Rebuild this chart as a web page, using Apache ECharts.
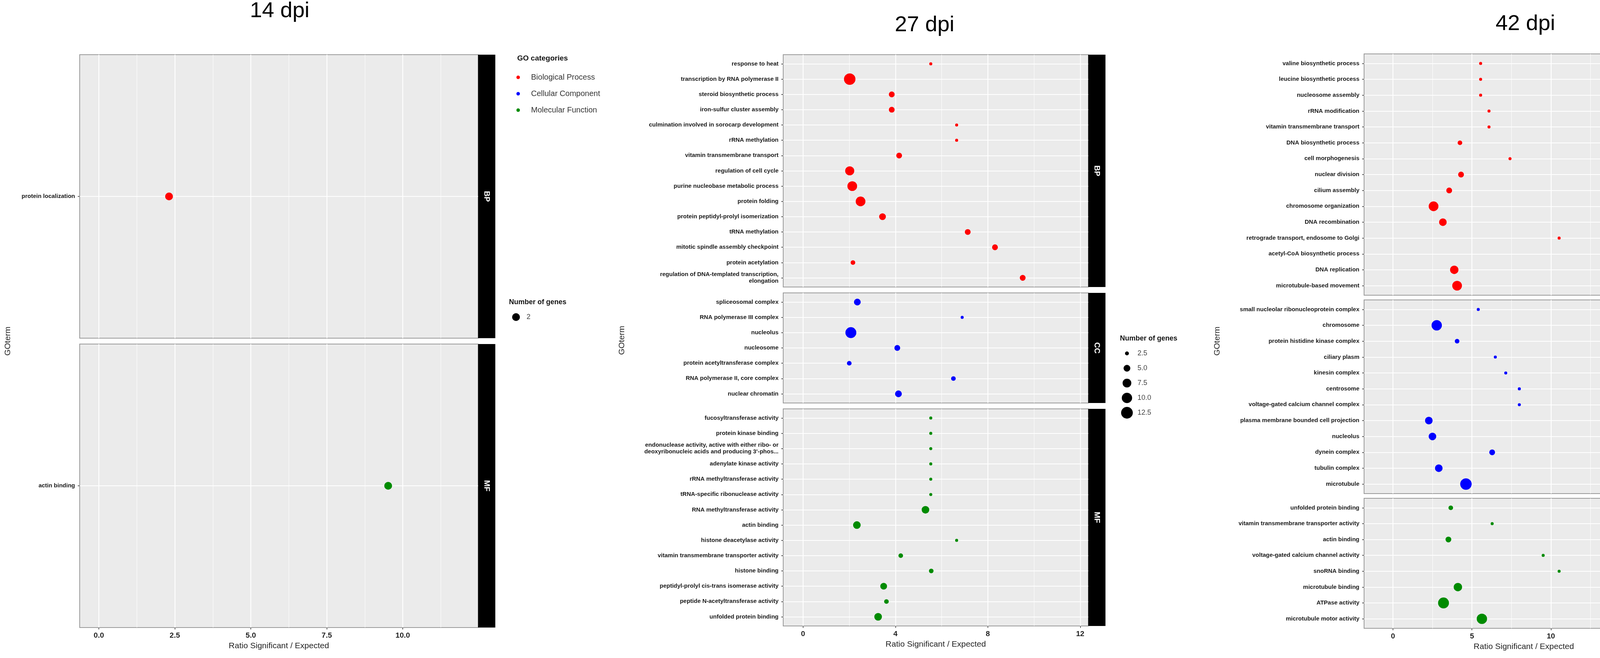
<!DOCTYPE html>
<html>
<head>
<meta charset="utf-8">
<title>GO enrichment dot plots</title>
<style>
  html, body { margin: 0; padding: 0; background: #fff; }
  #chart { width: 4561px; height: 1685px; }
</style>
<script src="https://cdn.jsdelivr.net/npm/echarts@6.0.0/dist/echarts.min.js"></script>
</head>
<body>
<div id="chart"></div>
<script>
const FONT = '"Liberation Sans", Arial, Helvetica, sans-serif';

// ---------- 14 dpi ----------
const d14BpTerms = ['protein localization'];
const d14BpRatio = [2.31];
const d14BpGenes = [2];
const d14MfTerms = ['actin binding'];
const d14MfRatio = [9.52];
const d14MfGenes = [2];
const d14Ticks = [0, 2.5, 5, 7.5, 10];
const d14Minor = [1.25, 3.75, 6.25, 8.75, 11.25];
const d14SizeBreaks = [2];

// ---------- 27 dpi ----------
const d27BpTerms = [
  'response to heat', 'transcription by RNA polymerase II', 'steroid biosynthetic process',
  'iron-sulfur cluster assembly', 'culmination involved in sorocarp development', 'rRNA methylation',
  'vitamin transmembrane transport', 'regulation of cell cycle', 'purine nucleobase metabolic process',
  'protein folding', 'protein peptidyl-prolyl isomerization', 'tRNA methylation',
  'mitotic spindle assembly checkpoint', 'protein acetylation',
  'regulation of DNA-templated transcription,\nelongation'
];
const d27BpRatio = [5.53, 2.02, 3.84, 3.84, 6.65, 6.65, 4.16, 2.02, 2.13, 2.49, 3.44, 7.13, 8.31, 2.16, 9.51];
const d27BpGenes = [2, 12, 4, 4, 2, 2, 4, 8, 9, 9, 5, 4, 4, 3, 4];

const d27CcTerms = [
  'spliceosomal complex', 'RNA polymerase III complex', 'nucleolus', 'nucleosome',
  'protein acetyltransferase complex', 'RNA polymerase II, core complex', 'nuclear chromatin'
];
const d27CcRatio = [2.35, 6.89, 2.07, 4.08, 2.0, 6.51, 4.13];
const d27CcGenes = [5, 2, 11, 4, 3, 3, 5];

const d27MfTerms = [
  'fucosyltransferase activity', 'protein kinase binding',
  'endonuclease activity, active with either ribo- or\ndeoxyribonucleic acids and producing 3\'-phos...',
  'adenylate kinase activity', 'rRNA methyltransferase activity', 'tRNA-specific ribonuclease activity',
  'RNA methyltransferase activity', 'actin binding', 'histone deacetylase activity',
  'vitamin transmembrane transporter activity', 'histone binding',
  'peptidyl-prolyl cis-trans isomerase activity', 'peptide N-acetyltransferase activity',
  'unfolded protein binding'
];
const d27MfRatio = [5.53, 5.53, 5.53, 5.53, 5.53, 5.53, 5.30, 2.33, 6.65, 4.23, 5.55, 3.49, 3.61, 3.25];
const d27MfGenes = [2, 2, 2, 2, 2, 2, 6, 6, 2, 3, 3, 5, 3, 6];
const d27Ticks = [0, 4, 8, 12];
const d27Minor = [2, 6, 10];

// ---------- 42 dpi ----------
const d42BpTerms = [
  'valine biosynthetic process', 'leucine biosynthetic process', 'nucleosome assembly',
  'rRNA modification', 'vitamin transmembrane transport', 'DNA biosynthetic process',
  'cell morphogenesis', 'nuclear division', 'cilium assembly', 'chromosome organization',
  'DNA recombination', 'retrograde transport, endosome to Golgi', 'acetyl-CoA biosynthetic process',
  'DNA replication', 'microtubule-based movement'
];
const d42BpRatio = [5.55, 5.55, 5.55, 6.08, 6.08, 4.24, 7.41, 4.31, 3.56, 2.57, 3.16, 10.52, 14.27, 3.88, 4.06];
const d42BpGenes = [2, 2, 2, 2, 2, 3, 2, 4, 4, 9, 6, 2, 2, 7, 9];

const d42CcTerms = [
  'small nucleolar ribonucleoprotein complex', 'chromosome', 'protein histidine kinase complex',
  'ciliary plasm', 'kinesin complex', 'centrosome', 'voltage-gated calcium channel complex',
  'plasma membrane bounded cell projection', 'nucleolus', 'dynein complex', 'tubulin complex',
  'microtubule'
];
const d42CcRatio = [5.40, 2.77, 4.06, 6.48, 7.14, 8.0, 8.0, 2.27, 2.5, 6.28, 2.9, 4.62];
const d42CcGenes = [2, 10, 3, 2, 2, 2, 2, 6, 6, 4, 6, 12];

const d42MfTerms = [
  'unfolded protein binding', 'vitamin transmembrane transporter activity', 'actin binding',
  'voltage-gated calcium channel activity', 'snoRNA binding', 'microtubule binding',
  'ATPase activity', 'microtubule motor activity'
];
const d42MfRatio = [3.66, 6.28, 3.51, 9.51, 10.52, 4.11, 3.2, 5.63];
const d42MfGenes = [3, 2, 4, 2, 2, 7, 11, 10];
const d42Ticks = [0, 5, 10, 15];
const d42Minor = [2.5, 7.5, 12.5, 17.5];

const sizeBreaks = [2.5, 5.0, 7.5, 10.0, 12.5];

const catLabels = { BP: 'Biological Process', CC: 'Cellular Component', MF: 'Molecular Function' };
const catOrder = ['BP', 'CC', 'MF'];
const catColors = { BP: '#ff0000', CC: '#0000ff', MF: '#008b00' };

// point diameter (px) from number of genes, area-like scale
function geneSize(n) { return Math.sqrt(Math.max(80 * n - 100, 36)); }

// ---------- layout ----------
const STRIP = 44;
const panels = [
  { title: '14 dpi', titleX: 716, titleY: 29, left: 204, right: 1224, xMin: -0.63, xMax: 12.48,
    ticks: d14Ticks, minor: d14Minor, digits: 1, yTitleX: 20, size: () => 20,
    legendX: 1303, legendY: 774, breaks: d14SizeBreaks, breakFmt: v => String(v),
    facets: [
      { cat: 'BP', top: 140, height: 726, terms: d14BpTerms, ratio: d14BpRatio, genes: d14BpGenes },
      { cat: 'MF', top: 881, height: 726, terms: d14MfTerms, ratio: d14MfRatio, genes: d14MfGenes }
    ] },
  { title: '27 dpi', titleX: 2367, titleY: 65, left: 2005, right: 2786, xMin: -0.86, xMax: 12.35,
    ticks: d27Ticks, minor: d27Minor, digits: 0, yTitleX: 1592, size: geneSize,
    legendX: 2867, legendY: 867, breaks: sizeBreaks, breakFmt: v => v.toFixed(1),
    facets: [
      { cat: 'BP', top: 140, height: 595, terms: d27BpTerms, ratio: d27BpRatio, genes: d27BpGenes },
      { cat: 'CC', top: 750, height: 282, terms: d27CcTerms, ratio: d27CcRatio, genes: d27CcGenes },
      { cat: 'MF', top: 1047, height: 556, terms: d27MfTerms, ratio: d27MfRatio, genes: d27MfGenes }
    ] },
  { title: '42 dpi', titleX: 3905, titleY: 62, left: 3492, right: 4310, xMin: -1.83, xMax: 18.4,
    ticks: d42Ticks, minor: d42Minor, digits: 0, yTitleX: 3116, size: geneSize,
    legendX: 4390, legendY: 868, breaks: sizeBreaks, breakFmt: v => v.toFixed(1),
    facets: [
      { cat: 'BP', top: 138, height: 618, terms: d42BpTerms, ratio: d42BpRatio, genes: d42BpGenes },
      { cat: 'CC', top: 768, height: 496, terms: d42CcTerms, ratio: d42CcRatio, genes: d42CcGenes },
      { cat: 'MF', top: 1276, height: 333, terms: d42MfTerms, ratio: d42MfRatio, genes: d42MfGenes }
    ] }
];

const grids = [], xAxes = [], yAxes = [], series = [], graphics = [];

panels.forEach(p => {
  const width = p.right - p.left;
  p.facets.forEach((f, fi) => {
    const gi = grids.length;
    const isBottom = fi === p.facets.length - 1;
    grids.push({
      left: p.left, top: f.top, width: width, height: f.height,
      show: true, backgroundColor: '#ebebeb', borderColor: '#9a9a9a', borderWidth: 2,
      containLabel: false, outerBoundsMode: 'none'
    });
    xAxes.push({
      gridIndex: gi, type: 'value', min: p.xMin, max: p.xMax, position: 'bottom',
      axisLine: { show: false, onZero: false },
      axisTick: { show: isBottom, customValues: p.ticks, length: 5, lineStyle: { color: '#333', width: 1.5 } },
      axisLabel: { show: isBottom, customValues: p.ticks, formatter: v => v.toFixed(p.digits),
                   fontFamily: FONT, fontSize: 19, fontWeight: 'bold', color: '#222', margin: 11 },
      splitLine: { show: true, lineStyle: { color: '#ffffff', width: 2.2 } },
      name: isBottom ? 'Ratio Significant / Expected' : '',
      nameLocation: 'middle', nameGap: 37,
      nameTextStyle: { fontFamily: FONT, fontSize: 21, color: '#222' }
    });
    const xi = xAxes.length - 1;
    xAxes.push({
      gridIndex: gi, type: 'value', min: p.xMin, max: p.xMax, position: 'bottom',
      axisLine: { show: false, onZero: false },
      axisTick: { show: false, customValues: p.minor },
      axisLabel: { show: false },
      splitLine: { show: true, lineStyle: { color: '#ffffff', width: 1 } }
    });
    const idx = f.terms.map((t, i) => i);
    yAxes.push({
      gridIndex: gi, type: 'value', inverse: true, position: 'left',
      min: -0.6, max: f.terms.length - 0.4,
      axisLine: { show: false, onZero: false },
      axisTick: { show: true, customValues: idx, length: 5, lineStyle: { color: '#333', width: 1.5 } },
      axisLabel: { show: true, customValues: idx, formatter: v => f.terms[Math.round(v)],
                   fontFamily: FONT, fontSize: 15, fontWeight: 'bold', color: '#1a1a1a',
                   margin: 12, lineHeight: 17, align: 'right' },
      splitLine: { show: true, lineStyle: { color: '#ffffff', width: 2.2 } }
    });
    series.push({
      type: 'scatter', name: catLabels[f.cat],
      xAxisIndex: xi, yAxisIndex: gi,
      data: f.ratio.map((r, i) => [r, i, f.genes[i]]),
      symbol: 'circle',
      symbolSize: v => p.size(v[2]),
      itemStyle: { color: catColors[f.cat], opacity: 1 },
      silent: true
    });
    // facet strip
    graphics.push({ type: 'rect', shape: { x: p.right, y: f.top, width: STRIP, height: f.height },
                    style: { fill: '#000' } });
    graphics.push({ type: 'text', x: p.right + STRIP / 2, y: f.top + f.height / 2, rotation: -Math.PI / 2,
                    style: { text: f.cat, fill: '#fff', font: 'bold 20px ' + FONT,
                             align: 'center', verticalAlign: 'middle',
                             textAlign: 'center', textVerticalAlign: 'middle' } });
  });

  const top = p.facets[0].top;
  const last = p.facets[p.facets.length - 1];
  const bottom = last.top + last.height;

  // panel title
  graphics.push({ type: 'text', x: p.titleX, y: p.titleY,
                  style: { text: p.title, fill: '#000', font: '56px ' + FONT,
                           align: 'center', verticalAlign: 'middle',
                           textAlign: 'center', textVerticalAlign: 'middle' } });
  // y axis title
  graphics.push({ type: 'text', x: p.yTitleX, y: (top + bottom) / 2, rotation: Math.PI / 2,
                  style: { text: 'GOterm', fill: '#222', font: '21px ' + FONT,
                           align: 'center', verticalAlign: 'middle',
                           textAlign: 'center', textVerticalAlign: 'middle' } });
  // size legend
  graphics.push({ type: 'text', x: p.legendX, y: p.legendY,
                  style: { text: 'Number of genes', fill: '#111', font: 'bold 18px ' + FONT,
                           align: 'left', verticalAlign: 'middle',
                           textAlign: 'left', textVerticalAlign: 'middle' } });
  p.breaks.forEach((b, i) => {
    const cy = p.legendY + 38 + 38 * i;
    graphics.push({ type: 'circle', shape: { cx: p.legendX + 18, cy: cy, r: p.size(b) / 2 },
                    style: { fill: '#000' } });
    graphics.push({ type: 'text', x: p.legendX + 45, y: cy,
                    style: { text: p.breakFmt(b), fill: '#444', font: '18px ' + FONT,
                             align: 'left', verticalAlign: 'middle',
                             textAlign: 'left', textVerticalAlign: 'middle' } });
  });
});

// GO categories legend title
graphics.push({ type: 'text', x: 1324, y: 150,
                style: { text: 'GO categories', fill: '#111', font: 'bold 19px ' + FONT,
                         align: 'left', verticalAlign: 'middle',
                         textAlign: 'left', textVerticalAlign: 'middle' } });

const chart = echarts.init(document.getElementById('chart'), null, { renderer: 'canvas' });
chart.setOption({
  backgroundColor: '#ffffff',
  animation: false,
  grid: grids,
  xAxis: xAxes,
  yAxis: yAxes,
  legend: {
    data: catOrder.map(c => catLabels[c]),
    orient: 'vertical', left: 1317, top: 183,
    icon: 'circle', itemWidth: 56, itemHeight: 9, itemGap: 22,
    selectedMode: false,
    textStyle: { fontFamily: FONT, fontSize: 20, color: '#333', lineHeight: 20 }
  },
  series: series,
  graphic: graphics
});
</script>
</body>
</html>
